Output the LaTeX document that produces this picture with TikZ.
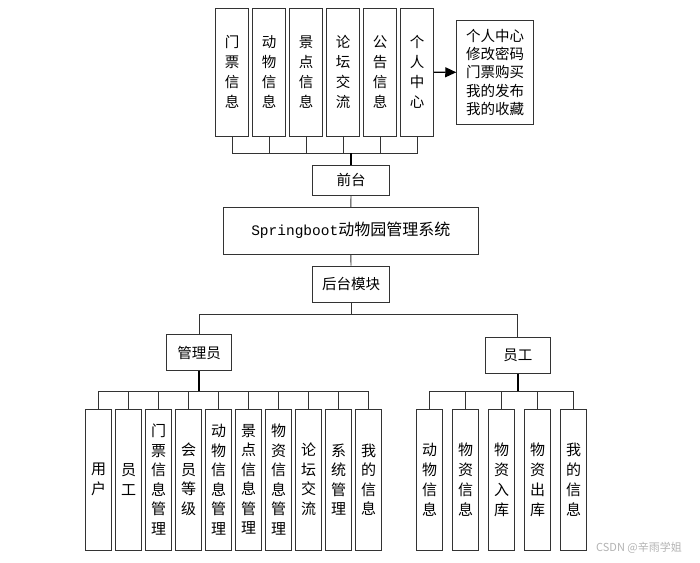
\documentclass[tikz,border=0pt]{standalone}
\usepackage{fontspec}
\newfontfamily\cjk{Noto Sans CJK SC}
\setmonofont{Liberation Mono}
\usetikzlibrary{arrows.meta}
\begin{document}
\begin{tikzpicture}[x=1pt,y=-1pt,
  box/.style={draw=black!80,line width=0.9pt,fill=white,inner sep=0pt,align=center,font=\cjk\fontsize{14.5}{19.5}\selectfont},
  tbox/.style={box,minimum width=33pt,minimum height=127.7pt,font=\cjk\fontsize{14.5}{20}\selectfont},
  lbox/.style={box,minimum width=26pt,minimum height=141pt,font=\cjk\fontsize{15}{19.5}\selectfont},
  wire/.style={draw=black!80,line width=0.9pt},
  stem/.style={draw=black,line width=1.6pt}]
\useasboundingbox (0,0) rectangle (700,562);
% top boxes
\node[tbox] (t1) at (232,72.2) {门\\票\\信\\息};
\node[tbox] (t2) at (269,72.2) {动\\物\\信\\息};
\node[tbox] (t3) at (306,72.2) {景\\点\\信\\息};
\node[tbox] (t4) at (343,72.2) {论\\坛\\交\\流};
\node[tbox] (t5) at (380,72.2) {公\\告\\信\\息};
\node[tbox] (t6) at (417,72.2) {个\\人\\中\\心};
\node[box,minimum width=76.6pt,minimum height=103.3pt,font=\cjk\fontsize{14.5}{18.3}\selectfont] (pc) at (495,72.3) {个人中心\\修改密码\\门票购买\\我的发布\\我的收藏};
\node[box,minimum width=76.6pt,minimum height=29.3pt] (qt) at (351,180.3) {前台};
\node[box,minimum width=255pt,minimum height=46.7pt,font=\fontsize{16}{18}\selectfont] (main) at (350.8,230.7) {\texttt{\fontsize{14.5}{18}\selectfont Springboot}{\cjk 动物园管理系统}};
\node[box,minimum width=76.6pt,minimum height=36.3pt] (ht) at (351,284.2) {后台模块};
\node[box,minimum width=65pt,minimum height=36pt] (gly) at (199.2,352.7) {管理员};
\node[box,minimum width=65pt,minimum height=35.6pt] (yg) at (517.8,355.5) {员工};
% admin children
\node[lbox] (a1) at (98.7,479.5) {用\\户};
\node[lbox] (a2) at (128.7,479.5) {员\\工};
\node[lbox] (a3) at (158.7,479.5) {门\\票\\信\\息\\管\\理};
\node[lbox] (a4) at (188.7,479.5) {会\\员\\等\\级};
\node[lbox] (a5) at (218.7,479.5) {动\\物\\信\\息\\管\\理};
\node[lbox] (a6) at (248.7,479.5) {景\\点\\信\\息\\管\\理};
\node[lbox] (a7) at (278.7,479.5) {物\\资\\信\\息\\管\\理};
\node[lbox] (a8) at (308.7,479.5) {论\\坛\\交\\流};
\node[lbox] (a9) at (338.7,479.5) {系\\统\\管\\理};
\node[lbox] (a10) at (368.7,479.5) {我\\的\\信\\息};
% staff children
\node[lbox,font=\cjk\fontsize{15}{20}\selectfont] (s1) at (429.5,479.5) {动\\物\\信\\息};
\node[lbox,font=\cjk\fontsize{15}{20}\selectfont] (s2) at (465.5,479.5) {物\\资\\信\\息};
\node[lbox,font=\cjk\fontsize{15}{20}\selectfont] (s3) at (501.5,479.5) {物\\资\\入\\库};
\node[lbox,font=\cjk\fontsize{15}{20}\selectfont] (s4) at (537.5,479.5) {物\\资\\出\\库};
\node[lbox,font=\cjk\fontsize{15}{20}\selectfont] (s5) at (573.5,479.5) {我\\的\\信\\息};
% coordinates
\coordinate (tbar) at (351,153.3);
\coordinate (hbar) at (351,314);
\coordinate (abar) at (199.2,391);
\coordinate (sbar) at (517.8,391);
% top connectors
\foreach \n in {t1,t2,t3,t4,t5,t6} \draw[wire] (\n.south) |- (tbar);
\draw[stem] (tbar) -- (qt.north);
\draw[draw=black,line width=1.2pt,-{Triangle[length=11pt,width=10pt]}] (t6.east) -- (pc.west);
\draw[wire] (qt.south) -- (main.north);
\draw[wire] (main.south) -- (ht.north);
\draw[wire] (ht.south) -- (hbar);
\draw[wire] (hbar) -| (gly.north);
\draw[wire] (hbar) -| (yg.north);
\draw[stem] (gly.south) -- (abar);
\foreach \n in {a1,a2,a3,a4,a5,a6,a7,a8,a9,a10} \draw[wire] (abar) -| (\n.north);
\draw[stem] (yg.south) -- (sbar);
\foreach \n in {s1,s2,s3,s4,s5} \draw[wire] (sbar) -| (\n.north);
% watermark
\node[text=black!30,font=\cjk\fontsize{11}{12}\selectfont,inner sep=0pt] (wm) at (639,548) {CSDN @辛雨学姐};
\end{tikzpicture}
\end{document}
